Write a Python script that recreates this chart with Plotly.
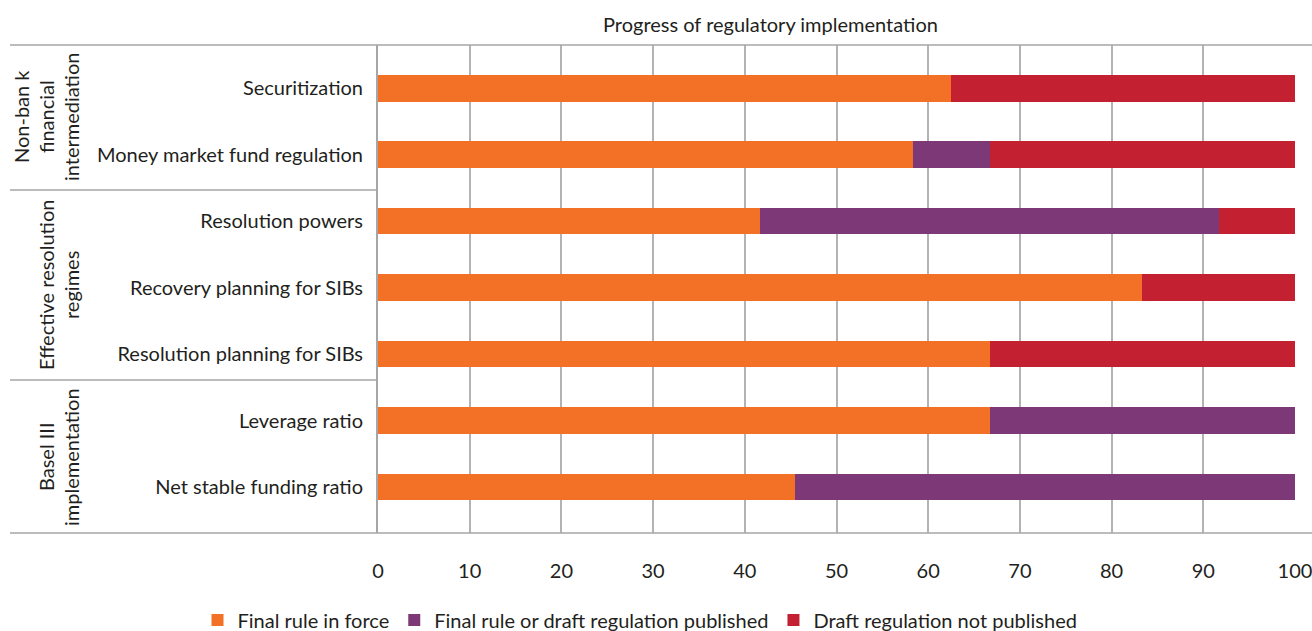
import plotly.graph_objects as go

categories = ["Net stable funding ratio", "Leverage ratio", "Resolution planning for SIBs",
              "Recovery planning for SIBs", "Resolution powers", "Money market fund regulation",
              "Securitization"]
final_in_force = [45.5, 66.7, 66.7, 83.3, 41.7, 58.3, 62.5]
final_or_draft = [54.5, 33.3, 0, 0, 50.0, 8.4, 0]
draft_not_pub = [0, 0, 33.3, 16.7, 8.3, 33.3, 37.5]
series_names = ["Final rule in force", "Final rule or draft regulation published",
                "Draft regulation not published"]
colors = ["#F37027", "#7D3878", "#C32032"]
group_labels = [
    (["Non-ban k", "financial", "intermediation"], 117),
    (["Effective resolution", "regimes"], 285),
    (["Basel III", "implementation"], 457),
]
x_ticks = [0, 10, 20, 30, 40, 50, 60, 70, 80, 90, 100]
title = "Progress of regulatory implementation"

FONT = "Lato"
FS = 20
W, H = 1312, 631
L, R, T, B = 378, 17, 45, 98
pw, ph = W - L - R, H - T - B

def px_x(px):
    return (px - L) / pw

def px_y(py):
    return (H - B - py) / ph

fig = go.Figure()
for name, vals, c in zip(series_names, [final_in_force, final_or_draft, draft_not_pub], colors):
    fig.add_trace(go.Bar(y=categories, x=vals, name=name, orientation="h",
                         marker=dict(color=c, line=dict(width=0)), width=0.4))

shapes = []
for py in [T, H - B]:
    shapes.append(dict(type="line", xref="paper", yref="paper", x0=px_x(10), x1=px_x(1312),
                       y0=px_y(py), y1=px_y(py), line=dict(color="#A6A6A6", width=1.5)))
for py in [190, 380]:
    shapes.append(dict(type="line", xref="paper", yref="paper", x0=px_x(10), x1=0,
                       y0=px_y(py), y1=px_y(py), line=dict(color="#A6A6A6", width=1.5)))

annotations = [dict(text=title, xref="paper", yref="paper", x=px_x(770), y=px_y(24),
                    showarrow=False, font=dict(size=FS, color="#231F20", family=FONT),
                    xanchor="center", yanchor="middle")]
for lines, cy in group_labels:
    n = len(lines)
    for i, ln in enumerate(lines):
        cx = 71 - 25 * (n - 1 - i)
        annotations.append(dict(text=ln, xref="paper", yref="paper", x=px_x(cx), y=px_y(cy),
                                showarrow=False, textangle=-90,
                                font=dict(size=FS, color="#231F20", family=FONT),
                                xanchor="center", yanchor="middle"))

fig.update_layout(
    width=W, height=H,
    barmode="stack",
    plot_bgcolor="white", paper_bgcolor="white",
    margin=dict(l=L, r=R, t=T, b=B, autoexpand=False),
    font=dict(family=FONT, size=FS, color="#231F20"),
    showlegend=True,
    legend=dict(orientation="h", x=px_x(640), y=px_y(620), xanchor="center", yanchor="middle",
                font=dict(size=FS, family=FONT), traceorder="normal", itemwidth=30,
                bgcolor="rgba(0,0,0,0)"),
    xaxis=dict(range=[0, 100], tickvals=x_ticks, showgrid=True, gridcolor="#B3B3B3", gridwidth=1.5,
               zeroline=False, showline=False, ticks="outside", ticklen=20,
               tickcolor="rgba(0,0,0,0)", tickfont=dict(size=FS), ticklabeloverflow="allow"),
    yaxis=dict(type="category", categoryorder="array", categoryarray=categories,
               range=[-0.69, 6.65], showgrid=False, showline=True, linecolor="#A6A6A6",
               linewidth=2, ticks="outside", ticklen=9, tickcolor="rgba(0,0,0,0)",
               tickfont=dict(size=FS)),
    shapes=shapes,
    annotations=annotations,
)

fig.write_html("out.html", post_script="document.body.style.margin='0';",
               config={"displayModeBar": False})
